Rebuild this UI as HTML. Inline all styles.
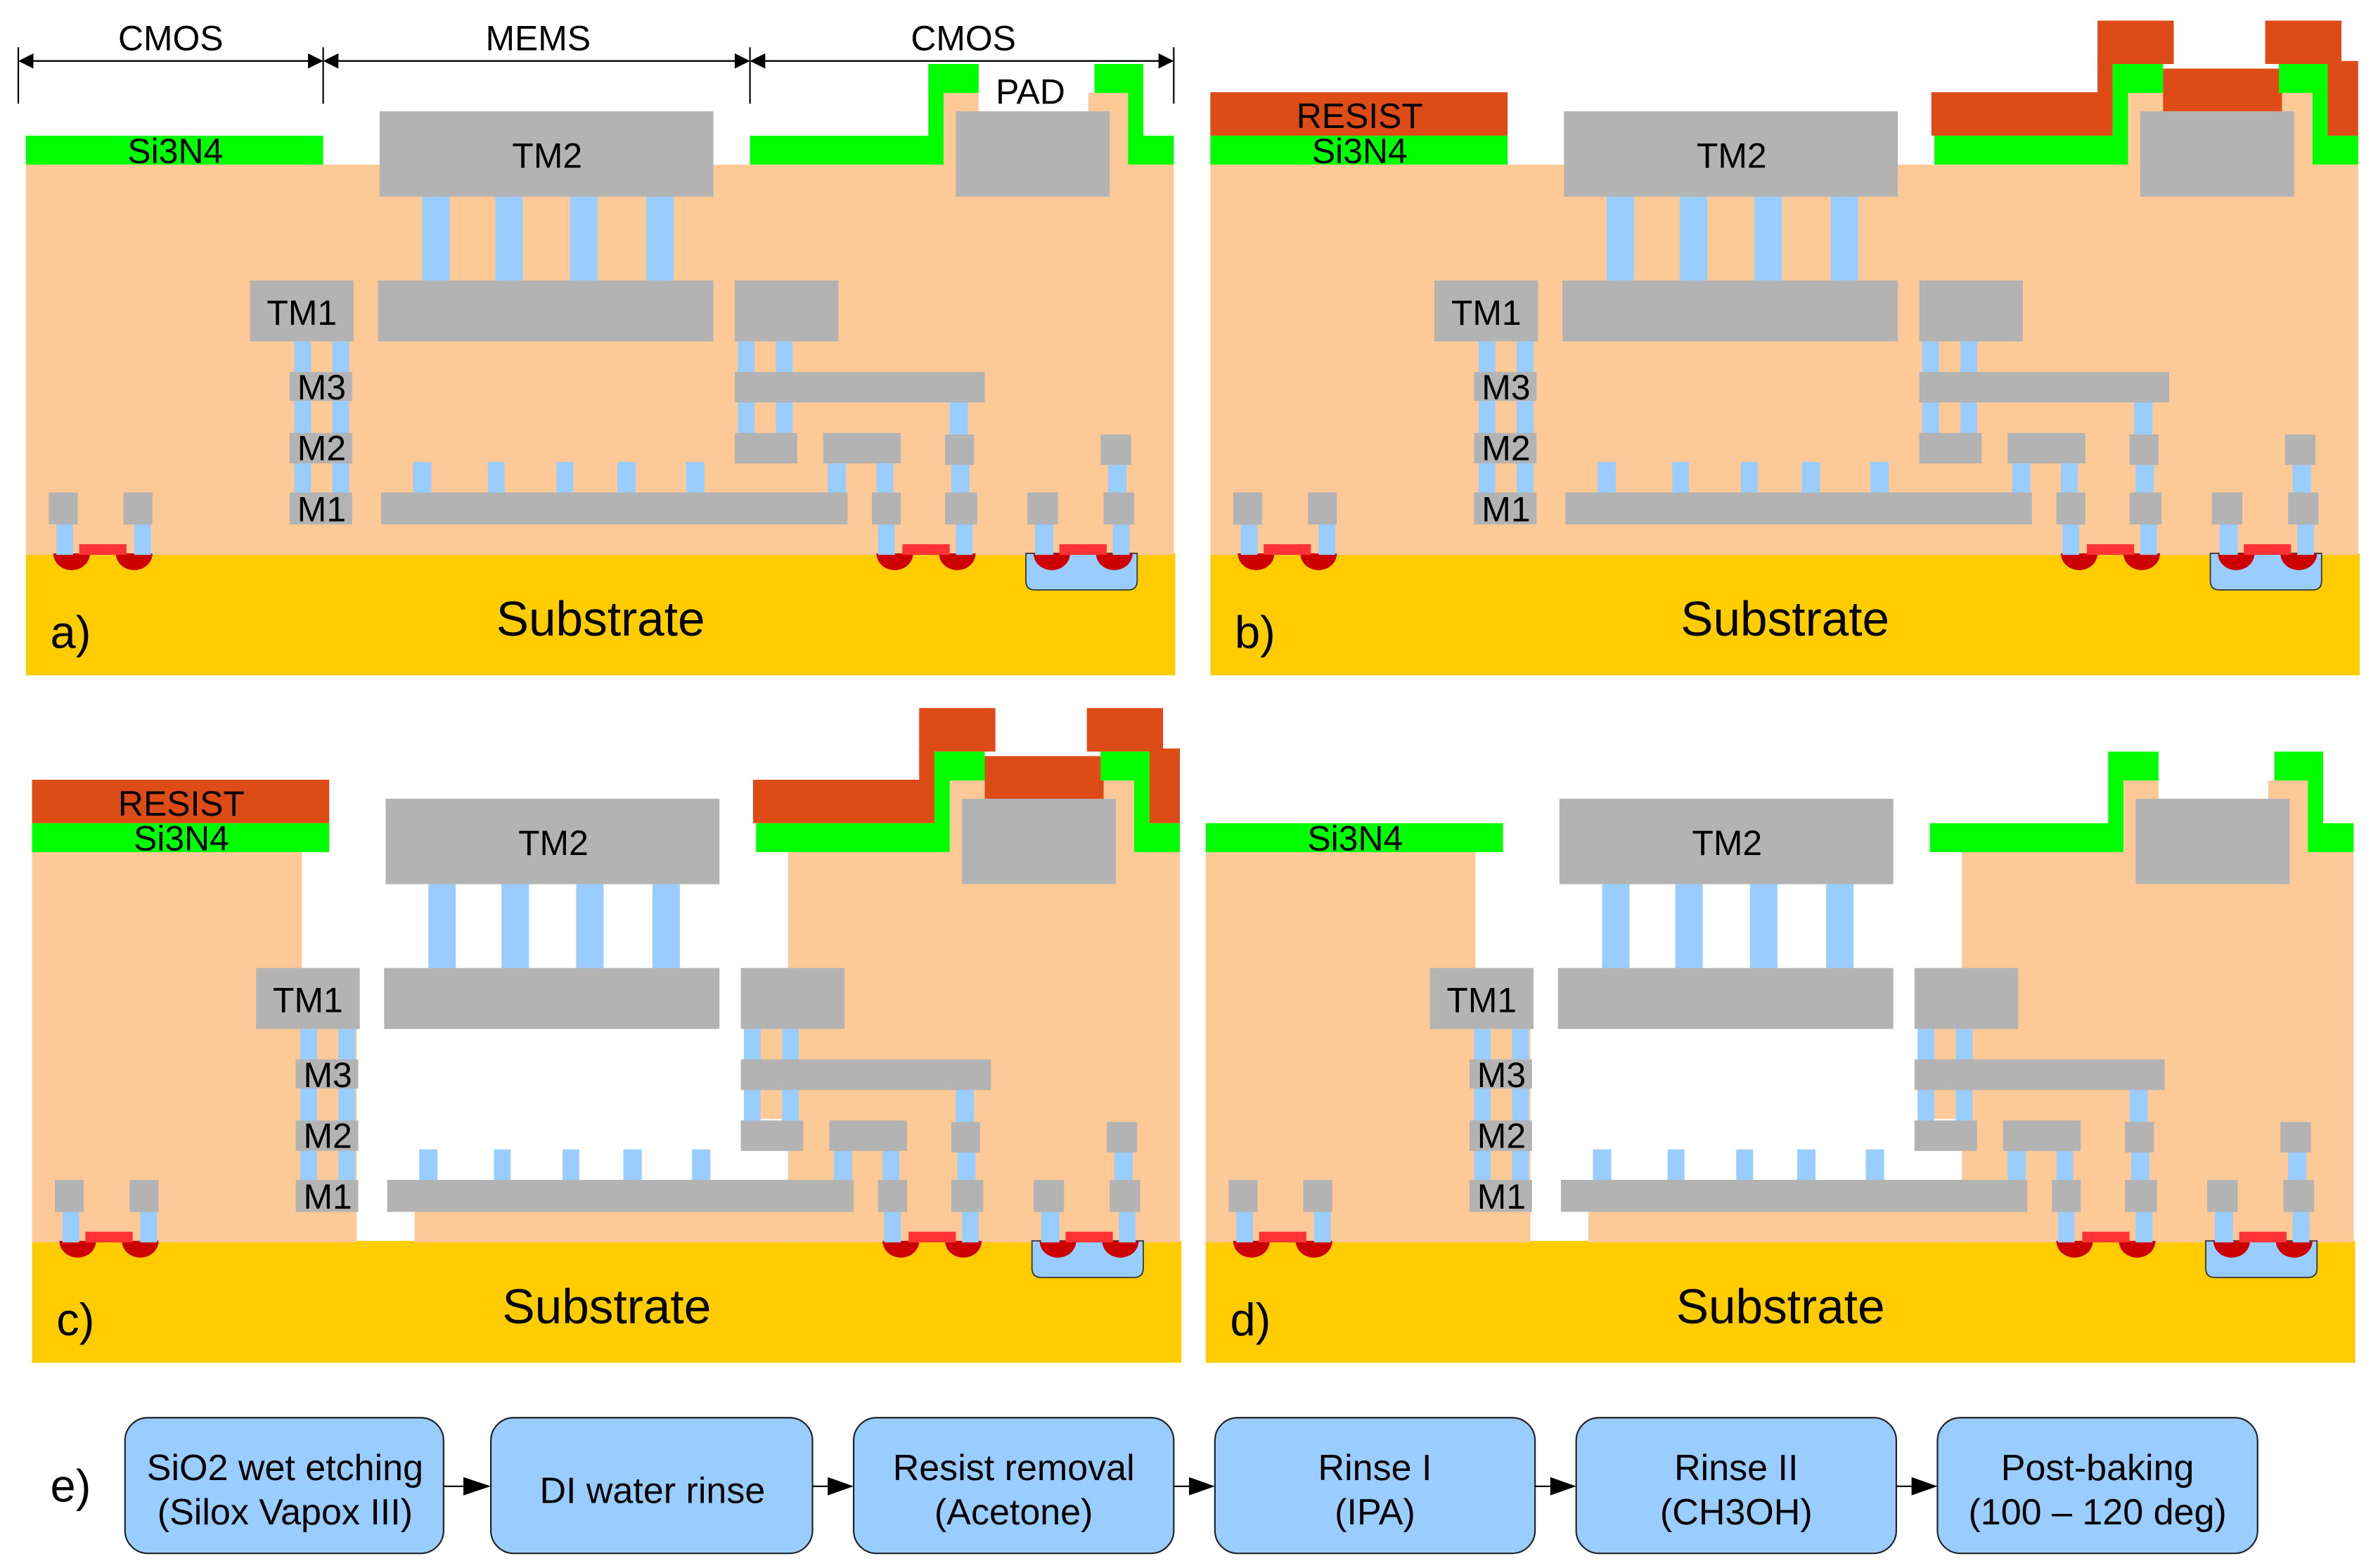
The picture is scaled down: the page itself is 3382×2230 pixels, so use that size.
<!DOCTYPE html>
<html><head><meta charset="utf-8"><style>html,body{margin:0;padding:0;background:#fff}svg{display:block}text{font-family:"Liberation Sans",sans-serif;fill:#000}</style></head>
<body>
<svg width="3382" height="2230" viewBox="0 0 1560 1028.6" preserveAspectRatio="none" xmlns="http://www.w3.org/2000/svg">
<defs>
<g id="sub">
<rect x="17" y="363" width="754" height="80" fill="#FFCC00"/>
</g>
<g id="peachFull" fill="#FDCA97">
<rect x="17" y="108" width="753" height="256"/>
<rect x="615" y="61" width="27" height="50"/>
<rect x="714" y="61" width="26" height="50"/>
</g>
<g id="peachEtch" fill="#FDCA97">
<rect x="17" y="108" width="177" height="256"/>
<rect x="194" y="224" width="36" height="140"/>
<rect x="268" y="343" width="250" height="21"/>
<rect x="513" y="108" width="257" height="256"/>
<rect x="484" y="224" width="30" height="59"/>
<rect x="615" y="61" width="27" height="50"/>
<rect x="714" y="61" width="26" height="50"/>
</g>
<g id="metal">
<path d="M673 363 H746 V381 Q746 387 740 387 H679 Q673 387 673 381 Z" fill="#99CCFF" stroke="#333" stroke-width="0.8"/>
<g fill="#CC0000">
<path d="M35 363 A12 11 0 0 0 59 363 Z"/><path d="M76 363 A12 11 0 0 0 100 363 Z"/>
<path d="M575 363 A12 11 0 0 0 599 363 Z"/><path d="M616 363 A12 11 0 0 0 640 363 Z"/>
<path d="M678 363 A12 11 0 0 0 702 363 Z"/><path d="M719 363 A12 11 0 0 0 743 363 Z"/>
</g>
<g fill="#99CCFF">
<rect x="277" y="129" width="18" height="56"/><rect x="325" y="129" width="18" height="56"/><rect x="374" y="129" width="18" height="56"/><rect x="424" y="129" width="18" height="56"/>
<rect x="193" y="224" width="11" height="100"/><rect x="218" y="224" width="11" height="100"/>
<rect x="484" y="224" width="11" height="60"/><rect x="509" y="224" width="11" height="60"/>
<rect x="623" y="263" width="12" height="22"/>
<rect x="543" y="304" width="12" height="20"/><rect x="575" y="304" width="11" height="20"/><rect x="624" y="304" width="12" height="20"/><rect x="727" y="304" width="12" height="20"/>
<rect x="271" y="303" width="12" height="21"/><rect x="320" y="303" width="11" height="21"/><rect x="365" y="303" width="11" height="21"/><rect x="405" y="303" width="12" height="21"/><rect x="450" y="303" width="12" height="21"/>
<rect x="37" y="343" width="11" height="21"/><rect x="88" y="343" width="11" height="21"/><rect x="576" y="343" width="11" height="21"/><rect x="627" y="343" width="11" height="21"/><rect x="679" y="343" width="12" height="21"/><rect x="730" y="343" width="11" height="21"/>
</g>
<g fill="#B3B3B3">
<rect x="249" y="73" width="219" height="56"/>
<rect x="627" y="73" width="101" height="56"/>
<rect x="164" y="184" width="68" height="40"/>
<rect x="248" y="184" width="220" height="40"/>
<rect x="482" y="184" width="68" height="40"/>
<rect x="190" y="244" width="41" height="19"/><rect x="190" y="284" width="41" height="20"/><rect x="190" y="323" width="41" height="21"/>
<rect x="482" y="244" width="164" height="20"/>
<rect x="482" y="284" width="41" height="20"/><rect x="540" y="284" width="51" height="20"/><rect x="620" y="285" width="19" height="20"/><rect x="722" y="285" width="20" height="20"/>
<rect x="250" y="323" width="306" height="21"/>
<rect x="32" y="323" width="19" height="21"/><rect x="81" y="323" width="19" height="21"/><rect x="572" y="323" width="19" height="21"/><rect x="620" y="323" width="21" height="21"/><rect x="674" y="323" width="20" height="21"/><rect x="724" y="323" width="20" height="21"/>
</g>
<g fill="#FF3333">
<rect x="52" y="357" width="31" height="7"/><rect x="592" y="357" width="31" height="7"/><rect x="695" y="357" width="31" height="7"/>
</g>
</g>
<g id="green" fill="#00FF00">
<rect x="17" y="89" width="195" height="19"/>
<polygon points="492,89 609,89 609,42 642,42 642,61 619,61 619,108 492,108"/>
<polygon points="718,42 750,42 750,89 770,89 770,108 740,108 740,61 718,61"/>
</g>
<g id="resist" fill="#DD4B16">
<rect x="17" y="60.5" width="195" height="28.5"/>
<rect x="490" y="60.5" width="119" height="28.5"/>
<rect x="599" y="13.5" width="50" height="28.5"/>
<rect x="599" y="40" width="10" height="22"/>
<rect x="642" y="45" width="78" height="28"/>
<rect x="709" y="13.5" width="50" height="28.5"/>
<rect x="750" y="40" width="20" height="49"/>
</g>
<marker id="ah" markerWidth="10" markerHeight="10" refX="9" refY="5" orient="auto" markerUnits="userSpaceOnUse"><path d="M0 0 L10 5 L0 10 Z" fill="#000"/></marker>
</defs>

<!-- dimension lines (panel a) -->
<g stroke="#000" stroke-width="1">
<line x1="12" y1="31" x2="12" y2="68"/><line x1="212" y1="31" x2="212" y2="68"/><line x1="492" y1="31" x2="492" y2="68"/><line x1="770" y1="31" x2="770" y2="68"/>
<line x1="13" y1="40" x2="211" y2="40" marker-end="url(#ah)"/><line x1="211" y1="40" x2="13" y2="40" marker-end="url(#ah)"/>
<line x1="213" y1="40" x2="491" y2="40" marker-end="url(#ah)"/><line x1="491" y1="40" x2="213" y2="40" marker-end="url(#ah)"/>
<line x1="493" y1="40" x2="769" y2="40" marker-end="url(#ah)"/><line x1="769" y1="40" x2="493" y2="40" marker-end="url(#ah)"/>
</g>
<g font-size="23" text-anchor="middle">
<text x="112" y="33">CMOS</text><text x="353" y="33">MEMS</text><text x="632" y="33">CMOS</text>
</g>

<!-- Panel a -->
<g>
<use href="#sub"/><use href="#peachFull"/><use href="#metal"/><use href="#green"/>
<g font-size="23" text-anchor="middle">
<text x="115" y="107">Si3N4</text><text x="359" y="110">TM2</text><text x="198" y="213">TM1</text>
<text x="211" y="262">M3</text><text x="211" y="302">M2</text><text x="211" y="342">M1</text>
<text x="676" y="68">PAD</text>
</g>
<text x="394" y="417" font-size="32" text-anchor="middle">Substrate</text>
<text x="33" y="425" font-size="30">a)</text>
</g>

<!-- Panel b -->
<g transform="translate(777,0)">
<use href="#sub"/><use href="#peachFull"/><use href="#metal"/><use href="#resist"/><use href="#green"/>
<g font-size="23" text-anchor="middle">
<text x="115" y="84">RESIST</text>
<text x="115" y="107">Si3N4</text><text x="359" y="110">TM2</text><text x="198" y="213">TM1</text>
<text x="211" y="262">M3</text><text x="211" y="302">M2</text><text x="211" y="342">M1</text>
</g>
<text x="394" y="417" font-size="32" text-anchor="middle">Substrate</text>
<text x="33" y="425" font-size="30">b)</text>
</g>

<!-- Panel c -->
<g transform="translate(4,451)">
<use href="#sub"/><use href="#peachEtch"/><use href="#metal"/><use href="#resist"/><use href="#green"/>
<g font-size="23" text-anchor="middle">
<text x="115" y="84">RESIST</text>
<text x="115" y="107">Si3N4</text><text x="359" y="110">TM2</text><text x="198" y="213">TM1</text>
<text x="211" y="262">M3</text><text x="211" y="302">M2</text><text x="211" y="342">M1</text>
</g>
<text x="394" y="417" font-size="32" text-anchor="middle">Substrate</text>
<text x="33" y="425" font-size="30">c)</text>
</g>

<!-- Panel d -->
<g transform="translate(774,451)">
<use href="#sub"/><use href="#peachEtch"/><use href="#metal"/><use href="#green"/>
<g font-size="23" text-anchor="middle">
<text x="115" y="107">Si3N4</text><text x="359" y="110">TM2</text><text x="198" y="213">TM1</text>
<text x="211" y="262">M3</text><text x="211" y="302">M2</text><text x="211" y="342">M1</text>
</g>
<text x="394" y="417" font-size="32" text-anchor="middle">Substrate</text>
<text x="33" y="425" font-size="30">d)</text>
</g>

<!-- Flow e -->
<text x="33" y="985" font-size="30">e)</text>
<g fill="#99CCFF" stroke="#222" stroke-width="1">
<rect x="82" y="930" width="209" height="89" rx="15"/>
<rect x="322" y="930" width="211" height="89" rx="15"/>
<rect x="560" y="930" width="210" height="89" rx="15"/>
<rect x="797" y="930" width="210" height="89" rx="15"/>
<rect x="1034" y="930" width="210" height="89" rx="15"/>
<rect x="1271" y="930" width="210" height="89" rx="15"/>
</g>
<g stroke="#000" stroke-width="1">
<line x1="291" y1="975" x2="304" y2="975"/><line x1="533" y1="975" x2="543" y2="975"/><line x1="770" y1="975" x2="780" y2="975"/><line x1="1007" y1="975" x2="1017" y2="975"/><line x1="1244" y1="975" x2="1254" y2="975"/>
</g>
<g fill="#000">
<path d="M304 969 L322 975 L304 981 Z"/><path d="M543 969 L560 975 L543 981 Z"/><path d="M780 969 L797 975 L780 981 Z"/><path d="M1017 969 L1034 975 L1017 981 Z"/><path d="M1254 969 L1271 975 L1254 981 Z"/>
</g>
<g font-size="24" text-anchor="middle">
<text x="187" y="971">SiO2 wet etching</text><text x="187" y="1000">(Silox Vapox III)</text>
<text x="428" y="986">DI water rinse</text>
<text x="665" y="971">Resist removal</text><text x="665" y="1000">(Acetone)</text>
<text x="902" y="971">Rinse I</text><text x="902" y="1000">(IPA)</text>
<text x="1139" y="971">Rinse II</text><text x="1139" y="1000">(CH3OH)</text>
<text x="1376" y="971">Post-baking</text><text x="1376" y="1000">(100 – 120 deg)</text>
</g>
</svg>
</body></html>
